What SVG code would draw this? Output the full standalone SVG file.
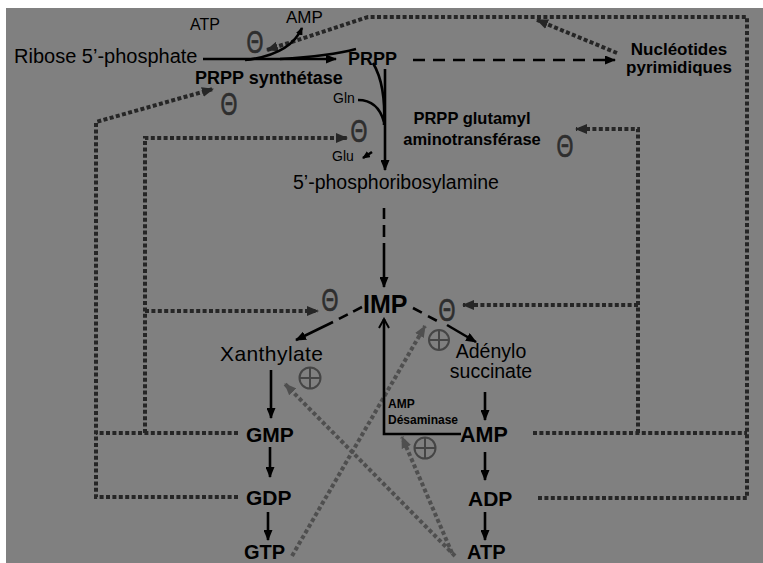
<svg xmlns="http://www.w3.org/2000/svg" width="763" height="563" viewBox="0 0 763 563">
<defs>
<style>
text{font-family:"Liberation Sans",Arial,sans-serif;fill:#000}
.b{font-weight:bold}
.th{font-family:"Liberation Sans",Arial,sans-serif;font-size:32px;fill:#2e2e2e;stroke:#2e2e2e;stroke-width:0.7}
.sol{fill:none;stroke:#000;stroke-width:2.6}
.dd{fill:none;stroke:#262626;stroke-width:4;stroke-dasharray:4 2.4}
.gd{fill:none;stroke:#4f4f4f;stroke-width:4;stroke-dasharray:4 2.6}
.plus{fill:none;stroke:#454545;stroke-width:2}
</style>
<marker id="ab" markerUnits="userSpaceOnUse" markerWidth="11" markerHeight="9" refX="10" refY="4.5" orient="auto"><path d="M0,0 L11,4.5 L0,9 z" fill="#000"/></marker>
<marker id="abs" markerUnits="userSpaceOnUse" markerWidth="8" markerHeight="7" refX="7" refY="3.5" orient="auto"><path d="M0,0 L8,3.5 L0,7 z" fill="#000"/></marker>
<marker id="ao" markerUnits="userSpaceOnUse" markerWidth="12" markerHeight="12" refX="10" refY="6" orient="auto"><path d="M1,1 L10,6 L1,11" fill="none" stroke="#000" stroke-width="2"/></marker>
<marker id="ad" markerUnits="userSpaceOnUse" markerWidth="12" markerHeight="10" refX="11" refY="5" orient="auto"><path d="M0,0 L12,5 L0,10 z" fill="#262626"/></marker>
<marker id="ag" markerUnits="userSpaceOnUse" markerWidth="12" markerHeight="10" refX="11" refY="5" orient="auto"><path d="M0,0 L12,5 L0,10 z" fill="#4f4f4f"/></marker>
</defs>
<rect x="0" y="0" width="763" height="563" fill="#fff"/>
<rect x="6" y="8" width="757" height="555" fill="#808080"/>

<g id="connectors">
<path class="dd" d="M538,498 H747 V17 H368 L267,50" marker-end="url(#ad)"/>
<path class="dd" d="M617,53 L537,20" marker-end="url(#ad)"/>
<path class="dd" d="M533,433 H747"/>
<path class="dd" d="M638,433 V129 H576" marker-end="url(#ad)"/>
<path class="dd" d="M638,305 H463" marker-end="url(#ad)"/>
<path class="dd" d="M238,433 H96"/>
<path class="dd" d="M238,497 H96 V122 L213,89" marker-end="url(#ad)"/>
<path class="dd" d="M145,433 V138 H347" marker-end="url(#ad)"/>
<path class="dd" d="M145,311 H318" marker-end="url(#ad)"/>
<path class="gd" d="M292,556 L425,326" marker-end="url(#ag)"/>
<path class="gd" d="M455,556 L285,384" marker-end="url(#ag)"/>
<path class="gd" d="M452,553 L402,437" marker-end="url(#ag)"/>
<path class="sol" d="M203,59 H336" stroke-width="3" marker-end="url(#ab)"/>
<path class="sol" d="M245,60 Q290,55 302,28" marker-end="url(#abs)"/>
<path class="sol" d="M280,59 Q330,56 356,49"/>
<path class="sol" d="M385,69 V170" marker-end="url(#ab)"/>
<path class="sol" d="M373,63 Q386,85 384,125"/>
<path class="sol" d="M358,100 Q378,100 384,122"/>
<path class="sol" d="M372,152 L363,158" stroke-width="2" marker-end="url(#abs)"/>
<path class="sol" d="M384,208 V219 M384,225 V237" stroke-width="3"/>
<path class="sol" d="M384,243 V287" marker-end="url(#ab)"/>
<path class="sol" d="M362,307 L335,321" stroke-width="3" stroke-dasharray="10 6"/>
<path class="sol" d="M333,322 L296,340" marker-end="url(#ab)"/>
<path class="sol" d="M413,308 L441,323" stroke-width="3" stroke-dasharray="10 7"/>
<path class="sol" d="M447,325 L476,342" marker-end="url(#ab)"/>
<path class="sol" d="M271,370 V418" marker-end="url(#ab)"/>
<path class="sol" d="M270,447 V477" marker-end="url(#ab)"/>
<path class="sol" d="M268,512 V540" marker-end="url(#ab)"/>
<path class="sol" d="M485,392 V420" marker-end="url(#ab)"/>
<path class="sol" d="M485,452 V480" marker-end="url(#ab)"/>
<path class="sol" d="M485,512 V540" marker-end="url(#ab)"/>
<path class="sol" d="M461,434 H384 V319" marker-end="url(#ao)"/>
<path class="sol" d="M413,60 H615" stroke-dasharray="12 8" marker-end="url(#ab)"/>
</g>

<g id="ribose"><text x="14" y="63" font-size="20">Ribose 5’-phosphate</text></g>
<g id="atp-top"><text x="190" y="30" font-size="16">ATP</text></g>
<g id="amp-top"><text x="286" y="23" font-size="17">AMP</text></g>
<g id="prpp"><text class="b" x="348" y="65" font-size="18">PRPP</text></g>
<g id="prpp-synthetase"><text class="b" x="195" y="84" font-size="18">PRPP synthétase</text></g>
<g id="nucleotides-pyr"><text class="b" x="679" y="55" font-size="17" text-anchor="middle">Nucléotides</text><text class="b" x="679" y="73" font-size="17" text-anchor="middle">pyrimidiques</text></g>
<g id="gln"><text x="333" y="103" font-size="14">Gln</text></g>
<g id="glu"><text x="332" y="161" font-size="14">Glu</text></g>
<g id="glutamyl"><text class="b" x="472" y="124" font-size="16.5" text-anchor="middle">PRPP glutamyl</text><text class="b" x="472" y="145" font-size="16.5" text-anchor="middle">aminotransférase</text></g>
<g id="phosphoribosylamine"><text x="293" y="189" font-size="19.5">5’-phosphoribosylamine</text></g>
<g id="imp"><text class="b" x="363" y="313" font-size="25">IMP</text></g>
<g id="xanthylate"><text x="220" y="361" font-size="21" textLength="103">Xanthylate</text></g>
<g id="adenylosuccinate"><text x="491" y="358" font-size="19.5" text-anchor="middle">Adénylo</text><text x="491" y="378" font-size="19.5" text-anchor="middle">succinate</text></g>
<g id="gmp"><text class="b" x="246" y="442" font-size="21">GMP</text></g>
<g id="gdp"><text class="b" x="246" y="505" font-size="21">GDP</text></g>
<g id="gtp"><text class="b" x="244" y="559" font-size="20">GTP</text></g>
<g id="amp"><text class="b" x="460" y="442" font-size="21.5">AMP</text></g>
<g id="adp"><text class="b" x="468" y="506" font-size="21">ADP</text></g>
<g id="atp"><text class="b" x="467" y="559" font-size="20">ATP</text></g>
<g id="amp-desaminase"><text class="b" x="388" y="408" font-size="12">AMP</text><text class="b" x="388" y="424" font-size="12">Désaminase</text></g>

<g id="inhibitors">
<text class="th" transform="translate(255,53) scale(0.68,1)" text-anchor="middle">Θ</text>
<text class="th" transform="translate(229,115) scale(0.68,1)" text-anchor="middle">Θ</text>
<text class="th" transform="translate(359,142) scale(0.68,1)" text-anchor="middle">Θ</text>
<text class="th" transform="translate(565,157) scale(0.68,1)" text-anchor="middle">Θ</text>
<text class="th" transform="translate(330,311) scale(0.68,1)" text-anchor="middle">Θ</text>
<text class="th" transform="translate(447,321) scale(0.68,1)" text-anchor="middle">Θ</text>
</g>
<g id="activators">
<g class="plus"><circle cx="310" cy="378" r="10.5"/><path d="M299.5,378 H320.5 M310,367.5 V388.5"/></g>
<g class="plus"><circle cx="439" cy="340" r="10"/><path d="M429,340 H449 M439,330 V350"/></g>
<g class="plus"><circle cx="425" cy="448" r="10.5"/><path d="M414.5,448 H435.5 M425,437.5 V458.5"/></g>
</g>
</svg>
